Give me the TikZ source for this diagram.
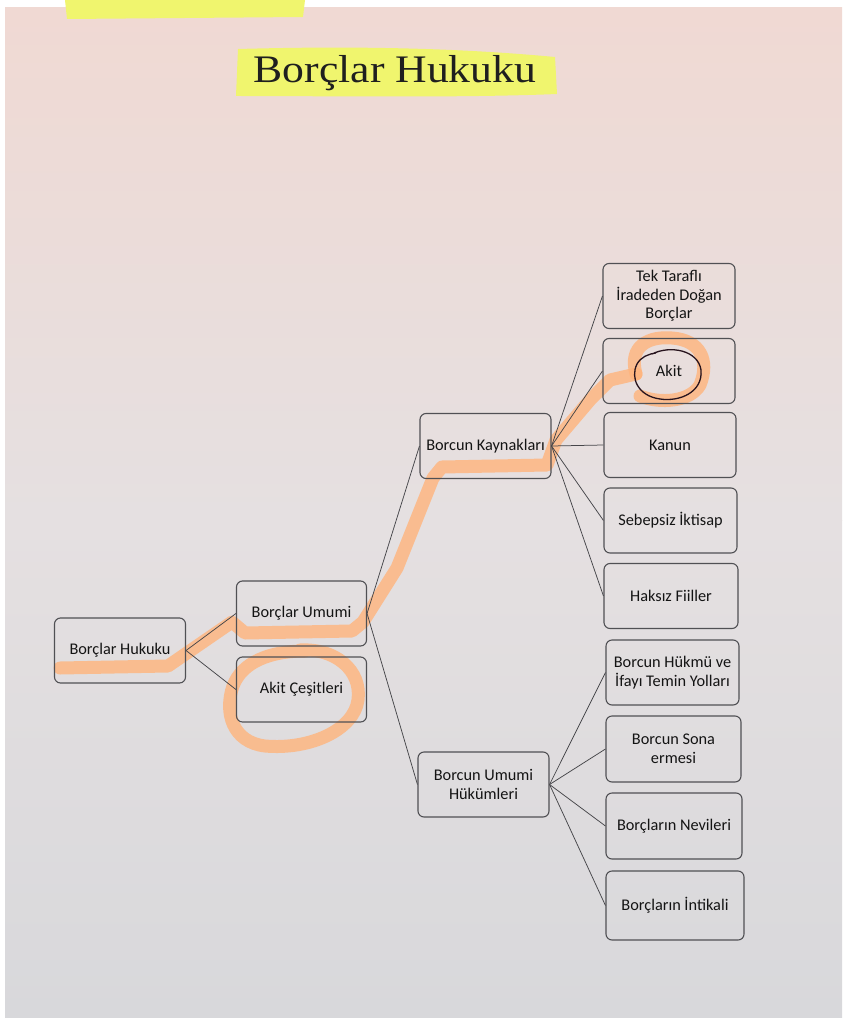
\documentclass[tikz,border=0pt]{standalone}
\usepackage{fontspec}
\setmainfont{Carlito}
\newfontfamily\titlefont{Liberation Serif}
\definecolor{pagetop}{RGB}{240,217,211}
\definecolor{pagemid}{RGB}{229,224,225}
\definecolor{pagebot}{RGB}{216,216,219}
\definecolor{boxline}{RGB}{80,80,84}
\definecolor{linkcol}{RGB}{70,70,74}
\definecolor{hlorange}{RGB}{255,180,124}
\definecolor{hlyellow}{RGB}{240,245,110}
\definecolor{pencol}{RGB}{40,20,30}
\tikzset{
  box/.style={draw=boxline, line width=1.1pt, rounded corners=6pt, minimum width=131pt, minimum height=65pt,
    align=center, inner sep=2pt, font=\fontsize{16.3}{18.5}\selectfont, text=black!92},
  link/.style={draw=linkcol, line width=0.75pt},
  hl/.style={draw=hlorange, line width=13pt, line cap=round, line join=round, opacity=0.8},
}
\begin{document}
\begin{tikzpicture}[x=1pt,y=-1pt]
\useasboundingbox (0,0) rectangle (854,1024);
\fill[white] (0,0) rectangle (854,1024);
% page
\shade[top color=pagetop, bottom color=pagemid] (5,8) rectangle (842,520);
\shade[top color=pagemid, bottom color=pagebot] (5,520) rectangle (842,1017);
% yellow highlights
\fill[hlyellow] (65,0) -- (305,0) -- (303,17) -- (67,19) -- cycle;
\fill[hlyellow] (238,49) .. controls (380,45) and (480,50) .. (555,57)
  -- (557,94) .. controls (460,98) and (330,96) .. (236,96) -- cycle;
% orange highlight path
\draw[hl] (60,668) -- (168,666) -- (232,622) -- (245,633) -- (352,631)
  -- (363,622) -- (397,568) -- (433,478) -- (442,467) -- (547,465)
  -- (556,440) -- (590,400) -- (610,380) -- (636,374);
\draw[hl] (636,374) .. controls (628,345) and (650,336) .. (672,338)
  .. controls (700,340) and (710,360) .. (700,385)
  .. controls (690,402) and (660,404) .. (640,396);
\draw[hl] (300,650) .. controls (335,648) and (362,670) .. (358,700)
  .. controls (354,730) and (310,750) .. (265,746)
  .. controls (232,742) and (224,712) .. (233,686)
  .. controls (242,662) and (270,651) .. (305,651);
% nodes
\node[box] (hukuku) at (120,650.5) {Borçlar Hukuku};
\node[box, minimum width=130pt] (umumi) at (301.5,613.5) {Borçlar Umumi};
\node[box, minimum width=130pt] (cesit) at (301.5,689.5) {Akit Çeşitleri};
\node[box] (kaynak) at (485.5,446) {Borcun Kaynakları};
\node[box] (umhuk) at (483.5,784.5) {Borcun Umumi\\Hükümleri};
\node[box, minimum width=132pt] (tek) at (669,296) {Tek Taraflı\\İradeden Doğan\\Borçlar};
\node[box, minimum width=132pt] (akit) at (669,371) {Akit};
\node[box, minimum width=132pt] (kanun) at (670,445) {Kanun};
\node[box, minimum width=133pt] (sebep) at (670.5,520.5) {Sebepsiz İktisap};
\node[box, minimum width=134pt] (haksiz) at (671,596) {Haksız Fiiller};
\node[box, minimum width=133pt] (hukmu) at (672.5,672.5) {Borcun Hükmü ve\\İfayı Temin Yolları};
\node[box, minimum width=135pt, minimum height=66pt] (sona) at (673.5,749) {Borcun Sona\\ermesi};
\node[box, minimum width=136pt, minimum height=66pt] (nevi) at (674,826) {Borçların Nevileri};
\node[box, minimum width=138pt, minimum height=69pt] (intikal) at (675,905.5) {Borçların İntikali};
% connectors
\draw[link] (hukuku.east) -- (umumi.west);
\draw[link] (hukuku.east) -- (cesit.west);
\draw[link] (umumi.east) -- (kaynak.west);
\draw[link] (umumi.east) -- (umhuk.west);
\foreach \t in {tek,akit,kanun,sebep,haksiz}
  \draw[link] (kaynak.east) -- (\t.west);
\foreach \t in {hukmu,sona,nevi,intikal}
  \draw[link] (umhuk.east) -- (\t.west);
% pen circle around Akit
\draw[pencol, line width=1.3pt] (652,354) .. controls (670,345) and (698,350) .. (701,370)
  .. controls (703,392) and (680,402) .. (660,399)
  .. controls (638,396) and (630,378) .. (637,364)
  .. controls (641,357) and (648,354) .. (656,353);
% title
\node[anchor=base, inner sep=0pt, text=black!88] (title) at (395,83)
  {\scalebox{1.12}[1]{\titlefont\fontsize{39}{44}\selectfont Borçlar Hukuku}};
\end{tikzpicture}
\end{document}
